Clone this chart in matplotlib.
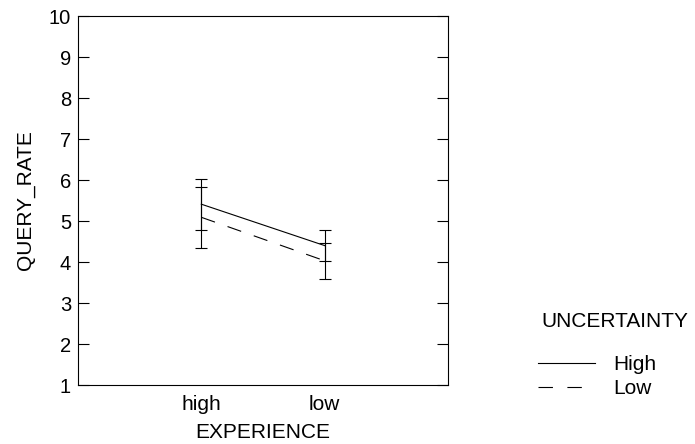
import numpy as np
import matplotlib.pyplot as plt
from matplotlib.lines import Line2D

plt.rcParams['font.family'] = ['Liberation Sans', 'DejaVu Sans']

# data
experience = ["high", "low"]
high_mean = [5.41, 4.40]
high_err = [0.62, 0.37]
low_mean = [5.09, 4.03]
low_err = [0.75, 0.44]

fig = plt.figure(figsize=(6.95, 4.44), dpi=100)
ax = fig.add_axes([78 / 695, 1 - 385 / 444, 370 / 695, 369 / 444])

x = np.arange(1, len(experience) + 1)
ax.errorbar(x, high_mean, yerr=high_err, color="black", lw=0.8,
            elinewidth=0.8, capsize=4, capthick=0.8, label="High")
ax.errorbar(x, low_mean, yerr=low_err, color="black", lw=0.8,
            elinewidth=0.8, capsize=4, capthick=0.8, dashes=(13, 12),
            label="Low")

ax.set_xlim(0, 3)
ax.set_ylim(1, 10)
ax.set_xticks(x)
ax.set_xticklabels(experience)
ax.set_yticks(range(1, 11))
ax.tick_params(axis="x", length=0, labelsize=15, pad=7)
ax.tick_params(axis="y", direction="in", length=8, width=0.8, labelsize=14.5,
               right=True, pad=5)
for s in ax.spines.values():
    s.set_linewidth(0.8)
ax.set_xlabel("EXPERIENCE", fontsize=15, labelpad=7)
ax.set_ylabel("QUERY_RATE", fontsize=15, labelpad=10)

# legend: title as separate text, entries below
fig.text(541 / 695, 1 - 321 / 444, "UNCERTAINTY", fontsize=15,
         ha="left", va="center")
handles = [Line2D([], [], color="black", lw=0.8),
           Line2D([], [], color="black", lw=0.8, dashes=(13, 13))]
fig.legend(handles, ["High", "Low"], loc="upper left",
           bbox_to_anchor=(538 / 695, 1 - 355 / 444),
           frameon=False, fontsize=15, handlelength=2.75,
           handletextpad=0.85, labelspacing=0.25,
           borderaxespad=0, borderpad=0)

fig.savefig("out.png", dpi=100)
